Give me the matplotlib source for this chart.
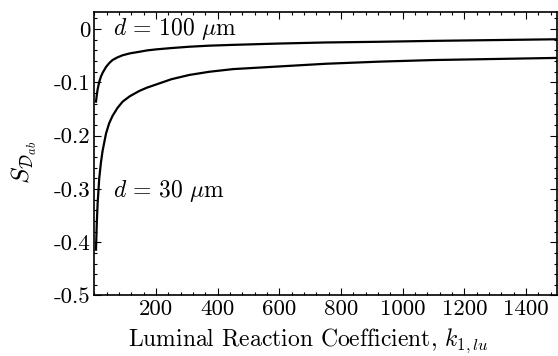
import numpy as np
import matplotlib
matplotlib.use("Agg")
import matplotlib.pyplot as plt
from matplotlib.ticker import FixedLocator, FixedFormatter, MultipleLocator

plt.rcParams["mathtext.fontset"] = "cm"
plt.rcParams["font.family"] = "serif"
plt.rcParams["font.serif"] = ["cmr10", "DejaVu Serif"]
plt.rcParams["axes.unicode_minus"] = False
plt.rcParams["axes.formatter.use_mathtext"] = True

# coeficiente de reaccion luminal
k = [5.5, 8, 10.8, 16, 21.6, 27, 38, 48, 59, 75, 92, 115, 146, 170, 200, 250,
     308, 373, 450, 600, 750, 924, 1100, 1300, 1500]
# sensibilidad para d = 100 um y d = 30 um
s_100 = [-0.136, -0.124, -0.113, -0.099, -0.089, -0.082, -0.071, -0.064, -0.058,
         -0.053, -0.049, -0.0455, -0.0425, -0.040, -0.038, -0.0355, -0.033,
         -0.031, -0.0295, -0.027, -0.025, -0.0237, -0.022, -0.0205, -0.019]
s_30 = [-0.414, -0.365, -0.327, -0.280, -0.250, -0.228, -0.196, -0.177, -0.163,
        -0.148, -0.136, -0.126, -0.116, -0.110, -0.104, -0.094, -0.086,
        -0.080, -0.075, -0.070, -0.065, -0.061, -0.058, -0.056, -0.054]

xticks = [200, 400, 600, 800, 1000, 1200, 1400]
yticks = [0, -0.1, -0.2, -0.3, -0.4, -0.5]
yticklabels = ["0", "-0.1", "-0.2", "-0.3", "-0.4", "-0.5"]

fig = plt.figure(figsize=(5.58, 3.56), dpi=100)
ax = fig.add_axes([0.169, 0.170, 0.829, 0.796])

ax.plot(k, s_100, color="black", lw=1.6)
ax.plot(k, s_30, color="black", lw=1.6)

ax.set_xlim(0, 1500)
ax.set_ylim(-0.5, 0.032)

ax.xaxis.set_major_locator(FixedLocator(xticks))
ax.xaxis.set_major_formatter(FixedFormatter([str(v) for v in xticks]))
ax.xaxis.set_minor_locator(MultipleLocator(40))
ax.yaxis.set_major_locator(FixedLocator(yticks))
ax.yaxis.set_major_formatter(FixedFormatter(yticklabels))
ax.yaxis.set_minor_locator(MultipleLocator(0.02))

ax.tick_params(which="both", direction="in", top=True, right=True,
               labelsize=16.5, width=0.8)
ax.tick_params(which="major", length=5, pad=3)
ax.tick_params(which="minor", length=2.5)
for sp in ax.spines.values():
    sp.set_linewidth(1.2)

ax.text(62, 0.0, r"$d\,=\,100\ \mu$m", fontsize=17, va="center", ha="left")
ax.text(62, -0.303, r"$d\,=\,30\ \mu$m", fontsize=17, va="center", ha="left")

ax.set_xlabel(r"Luminal Reaction Coefficient, $k_{1,lu}$", fontsize=17)
ax.xaxis.set_label_coords(0.462, -0.11, transform=ax.transAxes)
ax.xaxis.label.set_va("top")
ax.set_ylabel(r"$S_{\mathcal{D}_{ab}}$", fontsize=18)
ax.yaxis.set_label_coords(-0.12, 0.47, transform=ax.transAxes)

fig.savefig("out.png", dpi=100)
